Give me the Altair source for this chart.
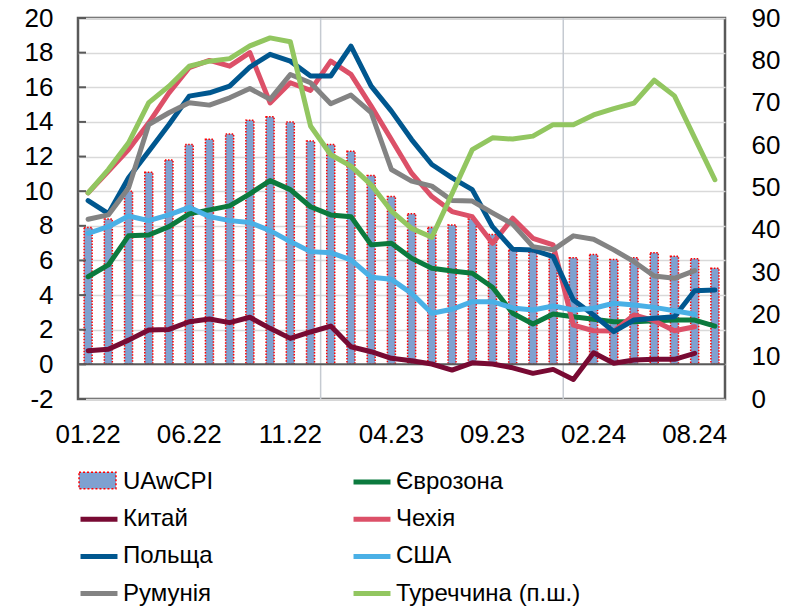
import altair as alt
import pandas as pd

# ---------------- data ----------------
months = ["01.22", "02.22", "03.22", "04.22", "05.22", "06.22", "07.22", "08.22",
          "09.22", "10.22", "11.22", "12.22", "01.23", "02.23", "03.23", "04.23",
          "05.23", "06.23", "07.23", "08.23", "09.23", "10.23", "11.23", "12.23",
          "01.24", "02.24", "03.24", "04.24", "05.24", "06.24", "07.24", "08.24"]

tick_months = ["01.22", "06.22", "11.22", "04.23", "09.23", "02.24", "07.24"]
tick_labels = ["01.22", "06.22", "11.22", "04.23", "09.23", "02.24", "08.24"]
year_starts = ["01.23", "01.24"]
left_ticks = [-2, 0, 2, 4, 6, 8, 10, 12, 14, 16, 18, 20]
right_ticks = [0, 10, 20, 30, 40, 50, 60, 70, 80, 90]

uawcpi = [7.9, 8.4, 10.0, 11.1, 11.8, 12.7, 13.0, 13.3, 14.1, 14.3, 14.0, 12.9,
          12.7, 12.3, 10.9, 9.7, 8.7, 7.9, 8.05, 8.4, 7.5, 6.6, 6.5, 6.4,
          6.15, 6.35, 6.05, 6.15, 6.45, 6.25, 6.1, 5.55]
euro = [5.06, 5.74, 7.42, 7.47, 7.95, 8.69, 8.92, 9.15, 9.85, 10.61, 10.09, 9.1,
        8.63, 8.53, 6.9, 6.99, 6.13, 5.55, 5.39, 5.26, 4.45, 2.95, 2.33, 2.91,
        2.75, 2.6, 2.46, 2.46, 2.52, 2.56, 2.56, 2.21]
china = [0.79, 0.87, 1.40, 1.98, 2.02, 2.46, 2.62, 2.41, 2.72, 2.08, 1.50, 1.87,
         2.21, 1.02, 0.73, 0.35, 0.21, 0.02, -0.33, 0.09, 0.02, -0.2, -0.52, -0.29,
         -0.87, 0.67, 0.06, 0.25, 0.29, 0.29, 0.64]
czech = [9.9, 11.15, 12.4, 13.95, 15.68, 17.13, 17.55, 17.22, 18.0, 15.1, 16.26, 15.82,
         17.51, 16.74, 14.91, 12.98, 11.04, 9.69, 8.82, 8.53, 6.99, 8.44, 7.28, 6.9,
         2.27, 1.94, 1.92, 2.85, 2.52, 1.94, 2.17]
poland = [9.46, 8.7, 10.77, 12.31, 13.85, 15.49, 15.68, 16.07, 17.17, 17.9, 17.51, 16.65,
          16.65, 18.38, 16.07, 14.62, 12.98, 11.54, 10.77, 10.09, 7.95, 6.65, 6.61, 6.22,
          3.72, 2.85, 1.89, 2.56, 2.66, 2.75, 4.25, 4.29]
usa = [7.57, 7.95, 8.57, 8.3, 8.63, 9.07, 8.53, 8.3, 8.19, 7.72, 7.09, 6.51,
       6.45, 6.03, 5.03, 4.91, 4.1, 2.95, 3.18, 3.62, 3.62, 3.26, 3.14, 3.37,
       3.14, 3.24, 3.53, 3.43, 3.29, 3.1, 2.89]
romania = [8.38, 8.63, 10.19, 13.85, 14.53, 15.1, 14.97, 15.39, 15.93, 15.3, 16.74, 16.26,
           15.05, 15.55, 14.53, 11.25, 10.58, 10.29, 9.46, 9.43, 8.75, 8.1, 6.8, 6.61,
           7.42, 7.22, 6.61, 5.93, 5.1, 4.97, 5.41]
turkey = [48.7, 54.2, 60.5, 70.0, 73.9, 78.6, 79.8, 80.4, 83.4, 85.3, 84.4, 64.5,
          57.7, 55.0, 50.6, 44.4, 40.3, 38.2, 48.5, 58.9, 61.7, 61.4, 62.1, 64.8,
          64.8, 67.1, 68.6, 69.9, 75.3, 71.6, 61.7, 51.8]

# legend is filled column by column: left column first, then right column
series_names = ["UAwCPI", "Китай", "Польща", "Румунія",
                "Єврозона", "Чехія", "США", "Туреччина (п.ш.)"]
series_colors = ["transparent", "#780A33", "#00578F", "#838383",
                 "#0B7A3E", "#DC5068", "#4AB0E6", "#92C660"]
bar_color = "#7FA1D0"

left_series = {"Єврозона": euro, "Китай": china, "Чехія": czech, "Польща": poland,
               "США": usa, "Румунія": romania}

# ---------------- tables ----------------
bars_df = pd.DataFrame({"month": months, "value": uawcpi, "series": "UAwCPI"})
rows = []
for name, vals in left_series.items():
    for m, v in zip(months, vals):
        rows.append({"month": m, "value": v, "series": name})
lines_df = pd.DataFrame(rows)
turkey_df = pd.DataFrame({"month": months, "value": turkey, "series": "Туреччина (п.ш.)"})
years_df = pd.DataFrame({"month": year_starts})
zero_df = pd.DataFrame({"value": [0]})
lticks_df = pd.DataFrame({"value": left_ticks})

FONT = "Liberation Sans"
LFONT = "Liberation Sans Narrow, Arial Narrow, Liberation Sans"
FRAME = "#595959"

label_expr = ("[" + ",".join(f"'{t}'" for t in tick_labels) + "][indexof(["
              + ",".join(f"'{t}'" for t in tick_months) + "], datum.value)]")

xscale = alt.Scale(type="band", domain=months, paddingInner=0, paddingOuter=0)
yleft = alt.Scale(domain=[-2, 20], nice=False, zero=False)
yright = alt.Scale(domain=[0, 90], nice=False, zero=False)

x_axis = alt.Axis(values=tick_months, labelExpr=label_expr, labelAngle=0, ticks=False,
                  domain=False, grid=False, labelPadding=22, labelFontSize=26,
                  labelFont=FONT, labelColor="black", title=None)
left_axis = alt.Axis(orient="left", values=left_ticks, labelExpr="'' + datum.value",
                     grid=True, gridColor="#D9D9D9", gridWidth=1.5, domain=False,
                     ticks=False, labelPadding=25, labelFontSize=26, labelFont=FONT,
                     labelColor="black", title=None)
right_axis = alt.Axis(orient="right", values=right_ticks, labelExpr="'' + datum.value",
                      grid=False, domain=False, ticks=False, labelPadding=26,
                      labelFontSize=26, labelFont=FONT, labelColor="black", title=None)

LEG_X = 2
LEG_Y = 445

stroke_scale = alt.Scale(domain=series_names, range=series_colors)
stroke_legend = alt.Legend(orient="none", legendX=LEG_X, legendY=LEG_Y, columns=2,
                           title=None, symbolType="M-1.12,0H1.12", symbolSize=1089,
                           symbolStrokeWidth=5, labelFont=LFONT, labelFontSize=24,
                           labelColor="black", labelOffset=5, columnPadding=129,
                           rowPadding=6.2, padding=0, labelLimit=400)
fill_legend = alt.Legend(orient="none", legendX=LEG_X, legendY=LEG_Y, title=None,
                         symbolType="M-1.12,-0.5H1.12V0.5H-1.12Z", symbolSize=1089,
                         symbolStrokeColor="red", symbolDash=[2, 2],
                         symbolStrokeWidth=1.5, labelFont=LFONT, labelFontSize=24,
                         labelExpr="''", labelOffset=5, padding=0)

y_left = alt.Y("value:Q", scale=yleft, axis=left_axis)

year_rules = alt.Chart(years_df).mark_rule(color="#C5CAD1", strokeWidth=1.5).encode(
    x=alt.X("month:N", scale=xscale, bandPosition=0, axis=x_axis),
)

bars = alt.Chart(bars_df).mark_bar(size=8, stroke="red", strokeDash=[1.5, 1.5],
                                   strokeWidth=1.5).encode(
    x=alt.X("month:N", scale=xscale, axis=x_axis),
    y=y_left,
    fill=alt.Fill("series:N", scale=alt.Scale(domain=["UAwCPI"], range=[bar_color]),
                  legend=fill_legend),
)

zero_rule = alt.Chart(zero_df).mark_rule(color=FRAME, strokeWidth=2).encode(
    y=y_left
)

left_tick_marks = alt.Chart(lticks_df).mark_rule(color=FRAME, strokeWidth=2).encode(
    y=y_left,
    x=alt.value(0), x2=alt.value(8),
)

lines = alt.Chart(lines_df).mark_line(strokeWidth=5, strokeJoin="round",
                                      strokeCap="round").encode(
    x=alt.X("month:N", scale=xscale, bandPosition=0.5, axis=x_axis),
    y=y_left,
    stroke=alt.Stroke("series:N", scale=stroke_scale, legend=stroke_legend),
    detail="series:N",
)

turkey_line = alt.Chart(turkey_df).mark_line(strokeWidth=5, strokeJoin="round",
                                             strokeCap="round").encode(
    x=alt.X("month:N", scale=xscale, bandPosition=0.5, axis=x_axis),
    y=alt.Y("value:Q", scale=yright, axis=right_axis),
    stroke=alt.Stroke("series:N", scale=stroke_scale, legend=stroke_legend),
)

left_layer = alt.layer(year_rules, bars, zero_rule, left_tick_marks, lines)

chart = alt.layer(left_layer, turkey_line).resolve_scale(
    y="independent"
).properties(
    width=647, height=381,
    autosize=alt.AutoSizeParams(type="none"),
    padding={"left": 70, "top": 10, "right": 60, "bottom": 208},
    background="white",
).configure_view(
    stroke=FRAME, strokeWidth=2.5
)

chart.save("out.html", embed_options={"renderer": "svg", "actions": False})
